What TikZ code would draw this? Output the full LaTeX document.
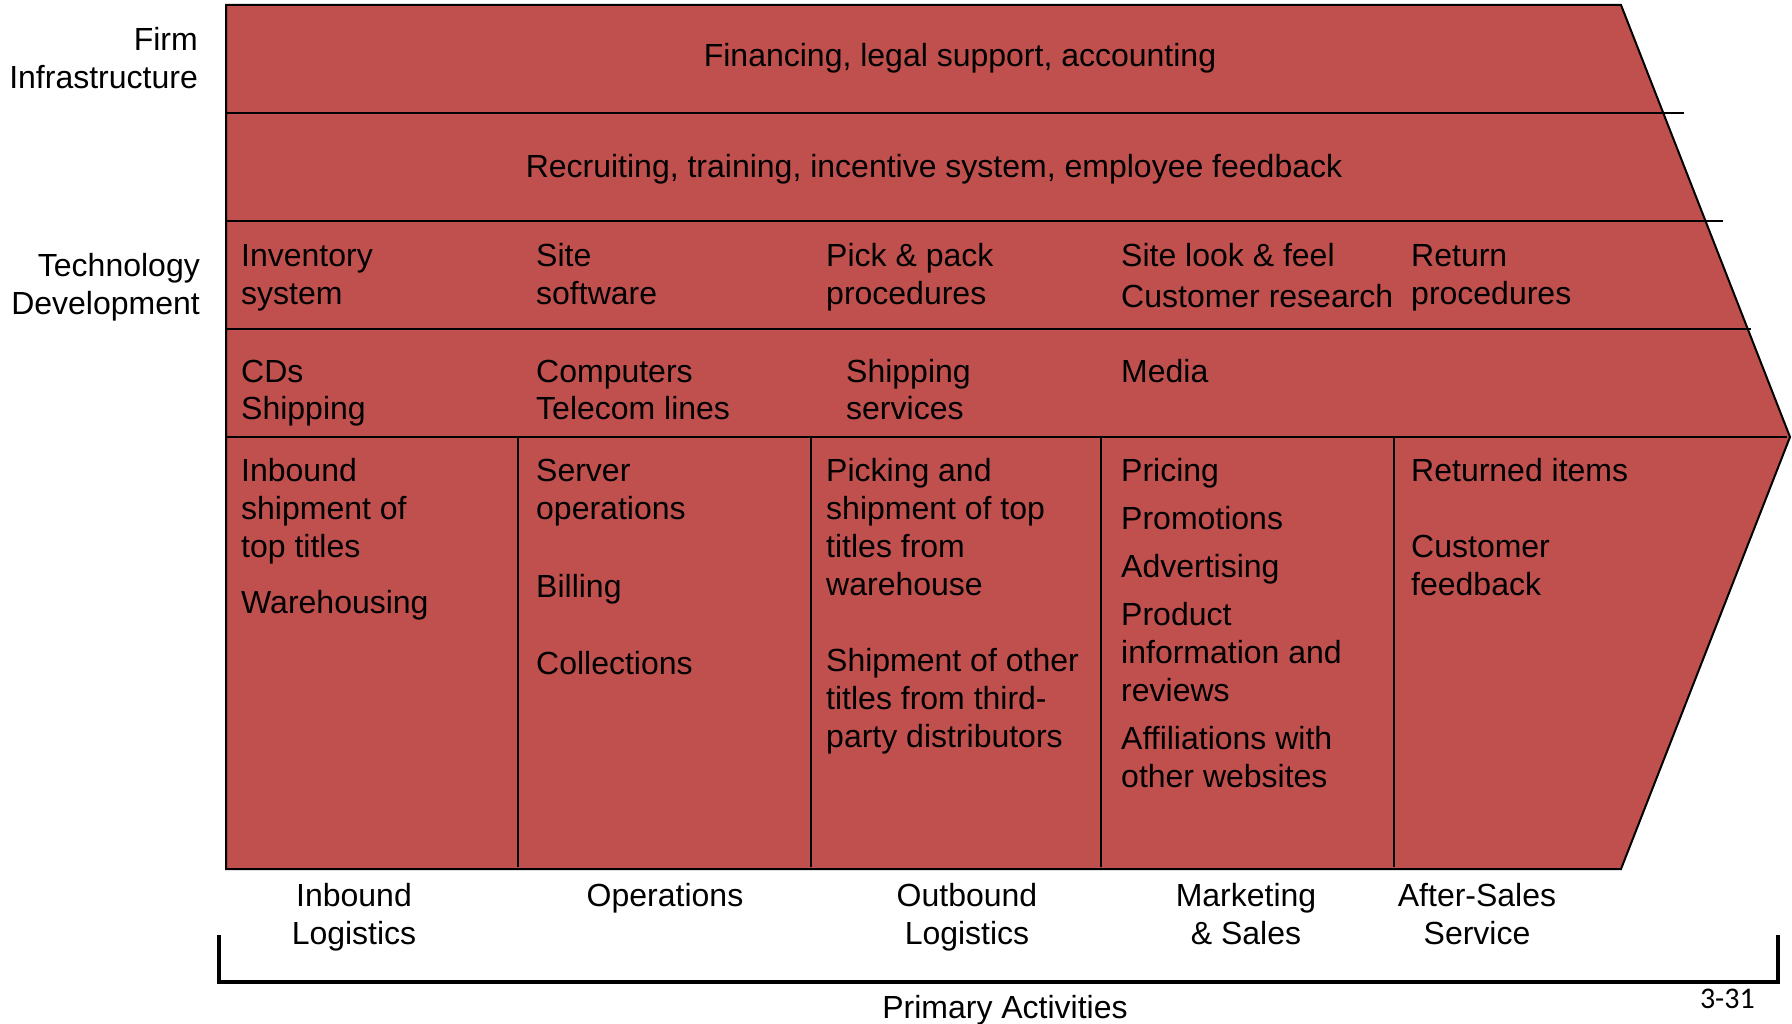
\documentclass[tikz,border=0pt]{standalone}
\usepackage{fontspec}
\setmainfont{Liberation Sans}
\newfontfamily\pagefont{Carlito}
\definecolor{vcred}{HTML}{C0504D}
\newcommand{\toplinesL}[1]{\begin{tabular}[t]{@{}l@{}}#1\end{tabular}}
\newcommand{\toplinesC}[1]{\begin{tabular}[t]{@{}c@{}}#1\end{tabular}}
\newcommand{\toplinesR}[1]{\begin{tabular}[t]{@{}r@{}}#1\end{tabular}}
\begin{document}
\begin{tikzpicture}[x=1pt,y=-1pt,
  txt/.style={inner sep=0pt, anchor=base west, font=\fontsize{32}{38}\selectfont},
  ctxt/.style={inner sep=0pt, anchor=base, font=\fontsize{32}{38}\selectfont},
  rtxt/.style={inner sep=0pt, anchor=base east, font=\fontsize{32}{38}\selectfont},
  band/.style={line width=1.5pt},
  divider/.style={line width=1.5pt},
  bracket/.style={line width=4pt, line join=miter},
]
\useasboundingbox (0,0) rectangle (1792,1024);
% chain shape
\draw[fill=vcred, line width=2pt, line join=miter]
  (226,5) -- (1621,5) -- (1790,437) -- (1621,869) -- (226,869) -- cycle;
% band lines
\draw[band] (226,113) -- (1684,113);
\draw[band] (226,221) -- (1723,221);
\draw[band] (226,329) -- (1751,329);
\draw[band] (226,437) -- (1787,437);
% column dividers
\draw[divider] (518,437) -- (518,867);
\draw[divider] (811,437) -- (811,867);
\draw[divider] (1101,437) -- (1101,867);
\draw[divider] (1394,437) -- (1394,867);

% left labels
\node[rtxt] (firm) at (198,51) {\toplinesR{Firm\\Infrastructure}};
\node[rtxt] (tech) at (200,277) {\toplinesR{Technology\\Development}};

% support rows
\node[ctxt] (fin) at (960,67) {Financing, legal support, accounting};
\node[ctxt] (hrm) at (934,178) {Recruiting, training, incentive system, employee feedback};

\node[txt] (t1) at (241,267) {\toplinesL{Inventory\\system}};
\node[txt] (t2) at (536,267) {\toplinesL{Site\\software}};
\node[txt] (t3) at (826,267) {\toplinesL{Pick \& pack\\procedures}};
\node[txt] (t4) at (1121,267) {\toplinesL{Site look \& feel\\[3pt]Customer research}};
\node[txt] (t5) at (1411,267) {\toplinesL{Return\\procedures}};

\node[txt] (p1) at (241,382) {\toplinesL{CDs\\Shipping}};
\node[txt] (p2) at (536,382) {\toplinesL{Computers\\Telecom lines}};
\node[txt] (p3) at (846,382) {\toplinesL{Shipping\\services}};
\node[txt] (p4) at (1121,382) {Media};

% primary activity cells
\node[txt] (c1) at (241,481) {\toplinesL{Inbound\\shipment of\\top titles\\[18pt]Warehousing}};
\node[txt] (c2) at (536,481) {\toplinesL{Server\\operations\\[40pt]Billing\\[39pt]Collections}};
\node[txt] (c3) at (826,481) {\toplinesL{Picking and\\shipment of top\\titles from\\warehouse\\[39pt]Shipment of other\\titles from third-\\party distributors}};
\node[txt] (c4) at (1121,481) {\toplinesL{Pricing\\[10pt]Promotions\\[10pt]Advertising\\[10pt]Product\\information and\\reviews\\[10pt]Affiliations with\\other websites}};
\node[txt] (c5) at (1411,481) {\toplinesL{Returned items\\[38pt]Customer\\feedback}};

% bottom labels
\node[ctxt] (l1) at (354,906) {\toplinesC{Inbound\\Logistics}};
\node[ctxt] (l2) at (665,906) {Operations};
\node[ctxt] (l3) at (967,906) {\toplinesC{Outbound\\Logistics}};
\node[ctxt] (l4) at (1246,906) {\toplinesC{Marketing\\\& Sales}};
\node[ctxt] (l5) at (1477,906) {\toplinesC{After-Sales\\Service}};

% bracket
\coordinate (bl) at (219,935);
\coordinate (br) at (1778,935);
\draw[bracket] (bl) -- (219,982) -- (1778,982) -- (br);
\node[ctxt] (prim) at (1005,1018) {Primary Activities};
\node[inner sep=0pt, anchor=base east, font=\pagefont\fontsize{30}{36}\selectfont] (pg) at (1755,1008) {3-31};
\end{tikzpicture}
\end{document}
